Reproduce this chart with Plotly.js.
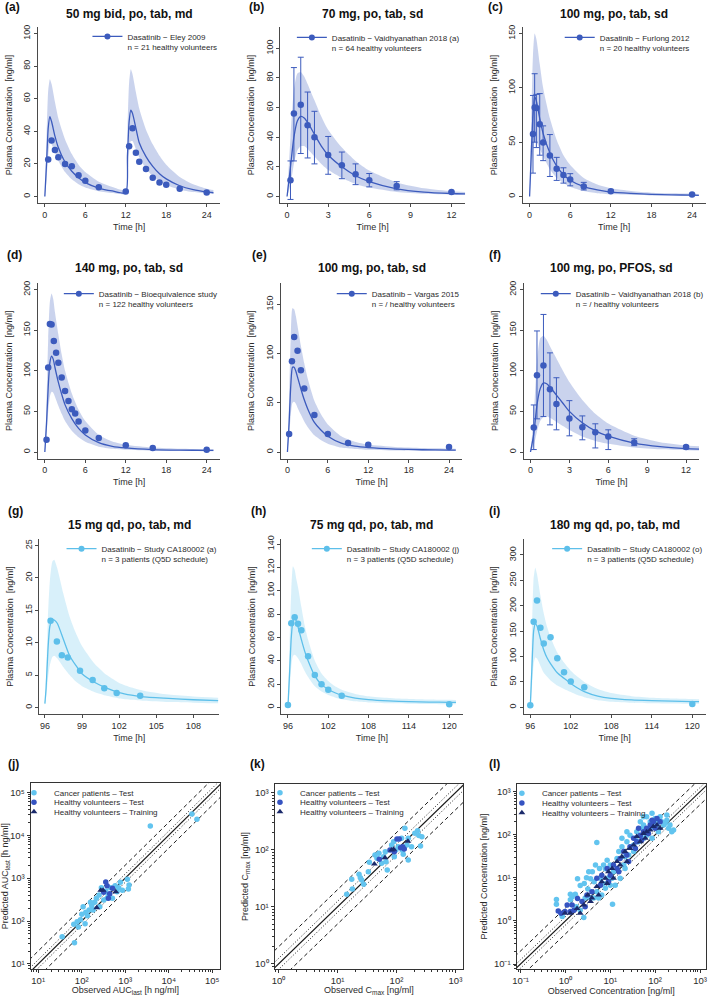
<!DOCTYPE html>
<html>
<head>
<meta charset="utf-8">
<script src="https://cdn.plot.ly/plotly-3.0.1.min.js"></script>
<style>
html,body{margin:0;padding:0;background:#ffffff;}
#chart{width:709px;height:996px;}
</style>
</head>
<body>
<div id="chart"></div>
<script>
// ================= DATA =================
// (a) 50 mg bid, po, tab, md
const aObsT = [0.5,1,1.5,2,3,4,5,6,8,12,12.5,13,13.5,14,15,16,17,18,20,24];
const aObsC = [22.7,34.4,28.5,24,20,18.6,13.1,9.6,5.7,3.1,30.9,41.8,26.8,21.3,16.8,11.5,8.6,7.2,4.7,2.5];
const aSimT = [0,0.25,0.5,0.75,1,1.5,2,3,4,5,6,8,10,12,12.25,12.5,12.75,13,13.5,14,15,16,17,18,20,22,24,25];
const aSimMed = [0,20,42,49,46,37,30,21,15.5,11.5,8.5,5.2,3.4,2.3,25,46,53,51,42,33,24.5,18.5,14,10.8,6.6,4.2,2.8,2.3];
const aSimHi = [0,35,65,72,69,58,48,35,26,19.5,15,9,5.8,4,40,70,78,75,64,54,41,32,25,19.5,12,7.5,4.8,4];
const aSimLo = [0,10,25,33,32,27,22,15,10.5,7.5,5.5,3.2,2.1,1.5,12,27,34,34,29,24,17,12.5,9.2,7,4.2,2.7,1.8,1.5];

// (b) 70 mg, po, tab, sd
const bObsT = [0.25,0.5,1,1.5,2,3,4,5,6,8,12];
const bObsC = [11,56,62,48,40,28,21,15,11,7,3];
const bObsLo = [-2,24,29,26,22,15,12,8,6.5,4.5,2.5];
const bObsHi = [24,87,94,70.5,57.5,40.5,30,22,15.5,10,3.5];
const bSimT = [0,0.25,0.5,0.75,1,1.25,1.5,2,2.5,3,4,5,6,8,10,12,13];
const bSimMed = [0,20,40,51,54,53,50,42,34,28,20,14,10,5.2,3,2,1.7];
const bSimHi = [0,40,72,83,84,81,76,65,54,45,33,24,17.5,9.5,5.5,3.5,3];
const bSimLo = [0,8,22,31,34,34,32,27,22,18,12.5,8.5,6,3,1.8,1.2,1];

// (c) 100 mg, po, tab, sd
const cObsT = [0.5,0.75,1,1.5,2,3,4,5,6,8,12,24];
const cObsC = [57.5,82,81.5,66.4,49.8,37.8,25.5,19.7,15.7,9.2,4.9,1.8];
const cObsLo = [21.5,50,45,38,33,18.4,14.8,12.3,9.8,6,3.7,1.2];
const cObsHi = [93,113,94,94.7,65,57,36,26.4,21,13,6,2.4];
const cSimT = [0,0.25,0.5,0.75,1,1.5,2,3,4,5,6,8,10,12,15,18,21,24,25];
const cSimMed = [0,40,75,92,88,72,58,40,28,20,15,9,6,4,2.8,2,1.5,1.2,1.1];
const cSimHi = [0,70,130,150,145,122,100,72,52,38,29,17,11,7.5,5,3.5,2.9,2.5,2.3];
const cSimLo = [0,20,40,50,50,44,37,25,17,12.5,9,5,3,2,1.4,1,0.8,0.6,0.5];

// (d) 140 mg, po, tab, sd
const dObsT = [0.25,0.5,0.75,1,1.33,1.67,2,2.5,3,3.5,4,4.5,5,6,8,12,16,24];
const dObsC = [15,104,157.5,157,136.7,122,109.8,91.8,75,62.8,52.6,47.3,37.5,26.5,17.1,8.2,4.9,2.9];
const dSimT = [0,0.25,0.5,0.75,1,1.25,1.5,2,2.5,3,4,5,6,8,10,12,16,20,24,25];
const dSimMed = [0,35,80,110,118,114,104,86,71,58,41,29,21,11.5,7,5,3,2.3,2,1.9];
const dSimHi = [0,60,140,185,195,188,172,145,120,100,72,52,38,21,13,9,5.5,4,3.5,3.3];
const dSimLo = [0,20,50,68,74,73,68,57,47,38,26,18,12.5,6.5,4,2.8,1.6,1.2,1,1];

// (e) 100 mg, po, tab, sd
const eObsT = [0.25,0.67,1,1.5,2,2.5,4,6,9,12,24];
const eObsC = [18.4,92.2,116.7,102.7,82.9,64.4,37.5,18.4,9.1,7.4,5];
const eSimT = [0,0.25,0.5,0.75,1,1.25,1.5,2,2.5,3,4,5,6,8,10,12,16,20,24,25];
const eSimMed = [0,30,68,86,86,82,76,64,53,44,30,22,16,9,6,4.5,3,2.3,2,2];
const eSimHi = [0,55,118,146,145,138,128,108,90,75,52,38,28,16,10.5,7.5,5,4,3.5,3.4];
const eSimLo = [0,15,38,50,51,49,45,38,31,25.5,17,12,8.5,4.5,3,2.2,1.4,1.1,1,1];

// (f) 100 mg, po, PFOS, sd
const fObsT = [0.25,0.5,1,1.5,2,3,4,5,6,8,12];
const fObsC = [30,94.6,106.5,77.1,59.1,41.2,30.6,24.4,19.1,11.8,6.1];
const fObsLo = [3,40.8,43.6,33.4,27.3,19.9,15,5,3,7.8,4];
const fObsHi = [57.9,149,169.3,122,91.4,63.2,44.4,34.7,27.3,16.3,8];
const fSimT = [0,0.25,0.5,0.75,1,1.25,1.5,2,2.5,3,4,5,6,8,10,12,13];
const fSimMed = [0,22,58,78,85,84,80,70,60,50,36,26,19.5,11,6.5,4.2,3.6];
const fSimHi = [0,45,110,140,143,138,130,115,100,86,64,47,35,20,12,8,7];
const fSimLo = [0,8,25,38,43,44,42,37,32,27,19,13.5,10,5.5,3.3,2.2,1.9];

// (g) 15 mg qd, po, tab, md
const gObsT = [96.46,96.97,97.37,97.85,98.84,99.86,100.8,101.8,103.7];
const gObsC = [13.4,10.2,8.05,7.7,5.66,4.26,2.96,2.23,1.82];
const gSimT = [96,96.1,96.25,96.4,96.6,96.75,97,97.5,98,98.5,99,100,101,102,103,104,106,108,110];
const gSimMed = [0.6,3,9,12.5,13.6,13.5,13,10.5,8,6.5,5.2,3.9,3,2.3,1.9,1.65,1.4,1.2,1.05];
const gSimHi = [0.9,5,14,19.5,22.5,22.8,21.5,17.5,14,11.5,9.5,6.8,5,3.8,3.1,2.6,2,1.7,1.5];
const gSimLo = [0.4,1.5,4.5,6.5,7.8,8,7.6,6.2,5,4,3.3,2.4,1.8,1.4,1.2,1.05,0.85,0.75,0.65];

// (h) 75 mg qd, po, tab, md
const hObsT = [96,96.5,97,97.5,98,99,100,101,102,104,120];
const hObsC = [2,72.1,77.3,71.7,66,43.7,27.7,19.7,15.1,10,2.6];
const hSimT = [96,96.25,96.5,96.75,97,97.25,97.5,98,98.5,99,100,101,102,103,104,106,108,111,114,117,120,121];
const hSimMed = [0,30,60,74,76,74,69,58,48,40,27,19.5,15.5,12.5,10.5,8,6.6,5.5,4.9,4.5,4.3,4.2];
const hSimHi = [0,55,100,121,118,110,103,86,70,58,40,29,22.5,18,15,11.5,9.5,8,7.2,6.8,6.5,6.4];
const hSimLo = [0,15,35,44,45,44,42,37,31,26,18,13.5,10.5,8.5,7,5.2,4.2,3.5,3.1,2.9,2.7,2.7];

// (i) 180 mg qd, po, tab, md
const iObsT = [96,96.5,97,97.5,98,99,100,101,102,104,120];
const iObsC = [3.9,168.5,210.6,156.8,125.9,137.8,96.4,68.9,50.6,39.4,6.6];
const iSimT = [96,96.25,96.5,96.75,97,97.5,98,98.5,99,100,101,102,103,104,106,108,111,114,117,120,121];
const iSimMed = [0,80,150,165,160,135,113,97,86,68,57,47,38,31,22,17.5,14.5,13,12,11,11];
const iSimHi = [0,150,255,275,262,220,185,158,138,108,88,72,60,50,36,28,22,19,17.5,16.5,16];
const iSimLo = [0,40,85,98,96,82,68,60,53,43,36,30,24,20,14,11,9,8,7.5,7,7];

// (j) AUClast, log10 values [h ng/ml]
const jCancerObsLog = [1.551,1.834,1.818,1.895,1.971,2.033,2.094,2.132,2.170,2.231,2.300,2.338,2.400,2.453,2.507,2.553,2.614,2.660,2.706,2.767,2.813,2.851,2.889,2.935,2.415,2.262,2.002,1.925,2.078,3.050,3.088,3.073,3.577,4.533,4.648,2.201,2.583];
const jCancerPredLog = [1.637,1.497,1.924,1.986,2.033,2.336,2.204,2.126,2.258,2.359,2.437,2.530,2.608,2.779,2.491,2.701,2.608,2.779,2.530,2.825,2.685,2.779,2.903,2.717,2.336,2.258,2.157,1.862,1.940,2.973,2.841,2.748,4.216,4.495,4.371,2.437,2.530];
const jHvTestObsLog = [2.553,2.583,2.644,2.706,2.507,2.614];
const jHvTestPredLog = [2.911,2.825,2.639,2.763,2.670,2.530];
const jHvTrainObsLog = [2.438,2.491,2.346,2.782];
const jHvTrainPredLog = [2.717,2.717,2.313,2.685];

// (k) Cmax, log10 values [ng/ml]
const kCancerObsLog = [1.156,1.252,1.241,1.365,1.410,1.444,1.387,1.523,1.540,1.636,1.670,1.703,1.748,1.782,1.810,1.822,1.844,1.918,1.952,1.963,1.991,2.030,2.087,2.098,2.115,2.143,2.177,2.200,2.256,2.312,2.358,2.380,2.408,2.431,2.200];
const kCancerPredLog = [1.220,1.313,1.483,1.570,1.471,1.395,1.512,1.617,1.781,1.909,1.851,1.938,1.763,1.880,1.967,1.792,1.646,2.084,2.142,1.880,1.996,2.055,2.201,1.991,1.921,2.376,2.084,2.201,2.055,2.288,2.335,2.248,2.067,2.230,1.821];
const kHvTestObsLog = [1.709,2.008,2.047,1.963,2.070,2.104,2.132,1.890];
const kHvTestPredLog = [1.833,2.189,2.189,1.967,2.037,2.055,2.014,1.997];
const kHvTrainObsLog = [1.625,1.805,1.918,1.952,2.194];
const kHvTrainPredLog = [1.751,1.862,1.996,2.008,2.148];

// (l) all concentrations, log10 values [ng/ml]
const lCancerObsLog = [-0.20,-0.20,0.11,0.15,0.22,0.27,0.33,0.42,0.47,0.50,0.56,0.60,0.64,0.41,0.70,1.05,0.63,0.70,0.78,0.85,0.89,0.93,1.00,1.04,1.07,1.15,1.19,1.26,1.30,1.33,1.37,1.44,1.52,1.56,1.59,1.67,1.70,1.74,1.81,1.89,1.93,2.00,2.04,2.07,2.11,2.15,2.19,2.22,2.26,2.30,2.33,2.37,1.89,1.81,1.74,1.63,1.52,1.41,1.33,1.22,1.11,1.00,0.89,0.81,0.74,0.56,0.44,0.11,0.84,0.94,0.76,0.67,-0.07,0.33,0.24,0.52,1.26,1.37,1.74,1.96,2.26,2.41,2.07,1.93];
const lCancerPredLog = [0.50,0.39,0.62,0.56,0.62,0.98,0.82,0.87,1.00,0.74,0.98,1.14,0.91,0.08,1.82,0.39,0.53,0.68,0.99,1.30,1.21,1.41,1.30,0.99,1.14,1.45,1.61,1.72,1.30,1.49,1.84,1.99,1.76,1.92,2.07,2.30,2.15,2.23,2.42,2.30,2.50,2.38,2.23,2.34,2.42,2.30,2.23,2.27,2.34,2.15,2.23,2.07,2.15,1.99,1.92,1.84,1.61,1.53,1.22,0.99,0.83,0.83,0.76,0.60,0.53,0.53,0.53,0.49,0.87,0.99,1.22,1.30,0.10,0.25,0.33,1.14,1.92,2.07,2.42,2.30,2.46,2.11,2.07,1.92];
const lHvTestObsLog = [-0.16,-0.01,0.04,0.11,0.19,0.27,0.37,0.48,0.59,0.70,0.81,0.93,1.00,1.07,1.15,1.22,1.30,1.37,1.44,1.52,1.59,1.67,1.74,1.81,1.89,1.96,2.04,2.11,2.00,1.85,1.70,1.56,1.41,1.19,0.96,0.78,0.44,0.15,-0.10,1.63,1.93];
const lHvTestPredLog = [0.23,0.22,0.37,0.22,0.25,0.52,0.45,0.60,0.68,0.99,1.06,1.22,1.06,1.30,1.22,1.45,1.61,1.53,1.72,1.92,1.84,1.99,2.07,2.15,2.23,2.30,2.38,2.30,2.15,2.03,1.88,1.68,1.38,1.14,0.91,0.83,0.33,0.37,0.18,2.15,2.34];
const lHvTrainObsLog = [-0.01,0.11,0.33,0.41,0.50,0.59,0.70,0.81,0.89,0.96,1.04,1.15,1.22,1.26,1.33,1.44,1.52,1.59,1.67,1.74,1.81,1.89,1.96,2.04,2.11,1.78,1.37,1.07,0.93,0.74,0.56,0.26];
const lHvTrainPredLog = [0.18,0.18,0.18,0.37,0.60,0.53,0.80,0.91,0.99,1.14,1.22,1.38,1.30,1.49,1.61,1.68,1.76,1.96,1.84,2.03,2.07,2.11,2.19,2.23,2.15,1.92,1.38,0.99,0.87,0.60,0.45,0.29];

// fold-error reference lines (predicted / observed)
const foldRatios = [0.5, 0.8, 1, 1.25, 2];
const SUPER = {'-': '\u207B', '0': '\u2070', '1': '\u00B9', '2': '\u00B2', '3': '\u00B3', '4': '\u2074', '5': '\u2075'};

// ================= STYLE / LAYOUT CONFIG =================
const W = 709, H = 996;
const FONT = 'Liberation Sans, Arial, Helvetica, sans-serif';
const TXT = '#2b2b2b', AXC = '#4a4a4a';
const DARK = '#3c5bbd', DARK_BAND = 'rgba(60,91,189,0.27)';
const LIGHT = '#5dbfea', LIGHT_BAND = 'rgba(93,191,234,0.24)';
const C_CANCER = '#62c4ef', C_HVTEST = '#3553c1', C_HVTRAIN = '#1b2a6b';
const SUB = t => '<span style="font-size:6.5px;baseline-shift:-2px">' + t + '</span>';

const pk = [
  {obsT:aObsT, obsC:aObsC, simT:aSimT, med:aSimMed, lo:aSimLo, hi:aSimHi, col:DARK, band:DARK_BAND,
   title:'50 mg bid, po, tab, md', leg:'Dasatinib − Eley 2009<br>n = 21 healthy volunteers', lab:'(a)',
   box:[38.2,220.8,27,203], xr:[-1,26], yr:[-4,104], x0:0, xdt:6, ydt:20, labXY:[3.5,7], titleY:14, legXY:[87.7,24.7]},
  {obsT:bObsT, obsC:bObsC, obsLo:bObsLo, obsHi:bObsHi, simT:bSimT, med:bSimMed, lo:bSimLo, hi:bSimHi, col:DARK, band:DARK_BAND,
   title:'70 mg, po, tab, sd', leg:'Dasatinib − Vaidhyanathan 2018 (a)<br>n = 64 healthy volunteers', lab:'(b)',
   box:[281,466.5,27,203], xr:[-0.5,13], yr:[-4.4,114.4], x0:0, xdt:3, ydt:20, labXY:[248,7], titleY:14, legXY:[292.7,25.7]},
  {obsT:cObsT, obsC:cObsC, obsLo:cObsLo, obsHi:cObsHi, simT:cSimT, med:cSimMed, lo:cSimLo, hi:cSimHi, col:DARK, band:DARK_BAND,
   title:'100 mg, po, tab, sd', leg:'Dasatinib − Furlong 2012<br>n = 20 healthy volunteers', lab:'(c)',
   box:[524.3,707.6,27,203], xr:[-1,26], yr:[-6,156], x0:0, xdt:6, ydt:50, labXY:[487,7], titleY:14, legXY:[561.3,25.7]},
  {obsT:dObsT, obsC:dObsC, simT:dSimT, med:dSimMed, lo:dSimLo, hi:dSimHi, col:DARK, band:DARK_BAND,
   title:'140 mg, po, tab, sd', leg:'Dasatinib − Bioequivalence study<br>n = 122 healthy volunteers', lab:'(d)',
   box:[38.2,220.8,283,458.5], xr:[-1,26], yr:[-8,208], x0:0, xdt:6, ydt:50, labXY:[5,255], titleY:268.3, legXY:[59,282]},
  {obsT:eObsT, obsC:eObsC, simT:eSimT, med:eSimMed, lo:eSimLo, hi:eSimHi, col:DARK, band:DARK_BAND,
   title:'100 mg, po, tab, sd', leg:'Dasatinib − Vargas 2015<br>n = / healthy volunteers', lab:'(e)',
   box:[281.5,463.8,283,458.5], xr:[-1,26], yr:[-6.6,171.6], x0:0, xdt:6, ydt:50, labXY:[251,255], titleY:268.3, legXY:[332.7,282]},
  {obsT:fObsT, obsC:fObsC, obsLo:fObsLo, obsHi:fObsHi, simT:fSimT, med:fSimMed, lo:fSimLo, hi:fSimHi, col:DARK, band:DARK_BAND,
   title:'100 mg, po, PFOS, sd', leg:'Dasatinib − Vaidhyanathan 2018 (b)<br>n = / healthy volunteers', lab:'(f)',
   box:[525.5,701,283,458.5], xr:[-0.5,13], yr:[-8,208], x0:0, xdt:3, ydt:50, labXY:[488.7,255], titleY:268.3, legXY:[537.3,282]},
  {obsT:gObsT, obsC:gObsC, simT:gSimT, med:gSimMed, lo:gSimLo, hi:gSimHi, col:LIGHT, band:LIGHT_BAND,
   title:'15 mg qd, po, tab, md', leg:'Dasatinib − Study CA180002 (a)<br>n = 3 patients (Q5D schedule)', lab:'(g)',
   box:[39.3,220,539,714], xr:[95.54,110.1], yr:[-1,26], x0:96, xdt:3, ydt:5, labXY:[6,511], titleY:525, legXY:[61.7,537]},
  {obsT:hObsT, obsC:hObsC, simT:hSimT, med:hSimMed, lo:hSimLo, hi:hSimHi, col:LIGHT, band:LIGHT_BAND,
   title:'75 mg qd, po, tab, md', leg:'Dasatinib − Study CA180002 (j)<br>n = 3 patients (Q5D schedule)', lab:'(h)',
   box:[282,464,539,714], xr:[95,122], yr:[-5.7,144.3], x0:96, xdt:6, ydt:20, labXY:[249.3,511], titleY:525, legXY:[307.7,537]},
  {obsT:iObsT, obsC:iObsC, simT:iSimT, med:iSimMed, lo:iSimLo, hi:iSimHi, col:LIGHT, band:LIGHT_BAND,
   title:'180 mg qd, po, tab, md', leg:'Dasatinib − Study CA180002 (o)<br>n = 3 patients (Q5D schedule)', lab:'(i)',
   box:[525,707.8,539,714], xr:[95,122], yr:[-13.2,331.5], x0:96, xdt:6, ydt:50, labXY:[488.7,511], titleY:525, legXY:[548.7,537]}
];

const sc = [
  {cx:jCancerObsLog, cy:jCancerPredLog, tx:jHvTestObsLog, ty:jHvTestPredLog, rx:jHvTrainObsLog, ry:jHvTrainPredLog,
   lab:'(j)', labXY:[6,764], box:[30.7,220.7,783.3,969], xr:[0.826,5.18], yr:[0.883,5.21], dec:[1,5],
   xt:'Observed AUC' + SUB('last') + ' [h ng/ml]', yt:'Predicted AUC' + SUB('last') + ' [h ng/ml]', legX:14, legY:[778.2,787.8,797.2]},
  {cx:kCancerObsLog, cy:kCancerPredLog, tx:kHvTestObsLog, ty:kHvTestPredLog, rx:kHvTrainObsLog, ry:kHvTrainPredLog,
   lab:'(k)', labXY:[248.7,764], box:[275.3,464.7,784,969], xr:[-0.068,3.135], yr:[-0.088,3.152], dec:[0,3],
   xt:'Observed C' + SUB('max') + ' [ng/ml]', yt:'Predicted C' + SUB('max') + ' [ng/ml]', legX:260.7, legY:[778.2,787.8,797.2]},
  {cx:lCancerObsLog, cy:lCancerPredLog, tx:lHvTestObsLog, ty:lHvTestPredLog, rx:lHvTrainObsLog, ry:lHvTrainPredLog,
   lab:'(l)', labXY:[488.7,764], box:[518,708,784,969], xr:[-1.089,3.133], yr:[-1.116,3.179], dec:[-1,3],
   xt:'Observed Concentration [ng/ml]', yt:'Predicted Concentration [ng/ml]', legX:503.3, legY:[778.8,788.5,798.2]}
];

// ================= BUILD =================
const traces = [];
const annotations = [];
const layout = {
  width: W, height: H, margin: {l:0, r:0, t:0, b:0},
  paper_bgcolor: '#ffffff', plot_bgcolor: 'rgba(0,0,0,0)',
  font: {family: FONT, size: 9, color: TXT},
  showlegend: true, hovermode: false
};
const px2x = v => v / W;
const px2y = v => 1 - v / H;
const pow10 = a => a.map(v => Math.pow(10, v));
const supText = d => '10' + String(d).split('').map(ch => SUPER[ch]).join('');

let legendCount = 0;
function nextLegend(x, y, valign) {
  legendCount += 1;
  const id = legendCount === 1 ? 'legend' : 'legend' + legendCount;
  layout[id] = {x: px2x(x), y: px2y(y), xanchor: 'left', yanchor: 'top', bgcolor: 'rgba(0,0,0,0)',
    borderwidth: 0, font: {family: FONT, size: 8, color: TXT}, valign: valign || 'middle', tracegroupgap: 0};
  return id;
}

function label(txt, x, y) {
  annotations.push({text: '<b>' + txt + '</b>', xref: 'paper', yref: 'paper', x: px2x(x), y: px2y(y),
    xanchor: 'left', yanchor: 'middle', showarrow: false, font: {family: FONT, size: 12, color: '#111'}});
}

pk.forEach((p, i) => {
  const n = i + 1;
  const xa = n === 1 ? 'x' : 'x' + n, ya = n === 1 ? 'y' : 'y' + n;
  const common = {xaxis: xa, yaxis: ya, hoverinfo: 'skip', showlegend: false};
  traces.push(Object.assign({x: p.simT, y: p.lo, mode: 'lines', line: {width: 0, shape: 'spline', smoothing: 0.6}}, common));
  traces.push(Object.assign({x: p.simT, y: p.hi, mode: 'lines', fill: 'tonexty', fillcolor: p.band,
    line: {width: 0, shape: 'spline', smoothing: 0.6}}, common));
  traces.push(Object.assign({x: p.simT, y: p.med, mode: 'lines', line: {color: p.col, width: 1.3, shape: 'spline', smoothing: 0.6}}, common));
  const obs = Object.assign({x: p.obsT, y: p.obsC, mode: 'markers', marker: {size: 6.5, color: p.col}}, common);
  if (p.obsLo) {
    obs.error_y = {type: 'data', symmetric: false,
      array: p.obsHi.map((v, k) => v - p.obsC[k]),
      arrayminus: p.obsC.map((v, k) => v - p.obsLo[k]),
      color: p.col, thickness: 1, width: 3};
  }
  traces.push(obs);
  const legId = nextLegend(p.legXY[0], p.legXY[1], 'top');
  traces.push({x: [null], y: [null], xaxis: xa, yaxis: ya, mode: 'lines+markers', name: p.leg, legend: legId,
    showlegend: true, line: {color: p.col, width: 1.3}, marker: {size: 6, color: p.col}, hoverinfo: 'skip'});

  const [x0, x1, y0, y1] = p.box;
  const axBase = {showline: true, linecolor: AXC, linewidth: 1, ticks: 'outside', ticklen: 3, tickwidth: 1,
    tickcolor: AXC, showgrid: false, zeroline: false, fixedrange: true, tickfont: {family: FONT, size: 9, color: TXT}};
  layout['xaxis' + (n === 1 ? '' : n)] = Object.assign({}, axBase, {domain: [px2x(x0), px2x(x1)], range: p.xr,
    anchor: ya, tickmode: 'linear', tick0: p.x0, dtick: p.xdt,
    title: {text: 'Time [h]', font: {family: FONT, size: 9, color: TXT}, standoff: 4}});
  layout['yaxis' + (n === 1 ? '' : n)] = Object.assign({}, axBase, {domain: [px2y(y1), px2y(y0)], range: p.yr,
    anchor: xa, tickmode: 'linear', tick0: 0, dtick: p.ydt, tickangle: -90,
    title: {text: 'Plasma Concentration\u00a0 [ng/ml]', font: {family: FONT, size: 9, color: TXT}, standoff: 8}});

  annotations.push({text: '<b>' + p.title + '</b>', xref: 'paper', yref: 'paper', x: px2x((x0 + x1) / 2), y: px2y(p.titleY),
    xanchor: 'center', yanchor: 'middle', showarrow: false, font: {family: FONT, size: 12, color: '#111'}});
  label(p.lab, p.labXY[0], p.labXY[1]);
});

const groupNames = ['Cancer patients – Test', 'Healthy volunteers – Test', 'Healthy volunteers – Training'];
sc.forEach((s, j) => {
  const n = pk.length + j + 1;
  const xa = 'x' + n, ya = 'y' + n;
  const xlo = Math.pow(10, s.xr[0]), xhi = Math.pow(10, s.xr[1]);
  foldRatios.forEach(f => {
    traces.push({x: [xlo / 4, xhi * 4], y: [xlo / 4 * f, xhi * 4 * f], xaxis: xa, yaxis: ya, mode: 'lines',
      line: {color: '#1a1a1a', width: f === 1 ? 1.2 : 1, dash: f === 1 ? 'solid' : ((f === 2 || f === 0.5) ? '4px,3px' : '1px,2px')},
      hoverinfo: 'skip', showlegend: false});
  });
  const sets = [
    {x: s.cx, y: s.cy, col: C_CANCER, sym: 'circle', size: 5.5},
    {x: s.tx, y: s.ty, col: C_HVTEST, sym: 'circle', size: 5.5},
    {x: s.rx, y: s.ry, col: C_HVTRAIN, sym: 'triangle-up', size: 6}
  ];
  sets.forEach((g, k) => {
    const legId = nextLegend(s.legX, s.legY[k], 'middle');
    traces.push({x: pow10(g.x), y: pow10(g.y), xaxis: xa, yaxis: ya, mode: 'markers', name: groupNames[k],
      legend: legId, showlegend: true, marker: {symbol: g.sym, size: g.size, color: g.col}, hoverinfo: 'skip'});
  });
  const major = [], majorTxt = [], minor = [];
  for (let d = s.dec[0]; d <= s.dec[1]; d++) {
    major.push(Math.pow(10, d));
    majorTxt.push(supText(d));
  }
  for (let d = s.dec[0] - 1; d <= s.dec[1]; d++) {
    for (let m = 2; m <= 9; m++) minor.push(m * Math.pow(10, d));
  }
  const [x0, x1, y0, y1] = s.box;
  const axBase = {type: 'log', showline: true, mirror: true, linecolor: '#333', linewidth: 1, ticks: 'outside',
    ticklen: 3, tickwidth: 1, tickcolor: '#333', showgrid: false, zeroline: false, fixedrange: true,
    tickmode: 'array', tickvals: major, ticktext: majorTxt, tickfont: {family: FONT, size: 9.5, color: TXT},
    minor: {tickmode: 'array', tickvals: minor, ticks: 'outside', ticklen: 1.5, tickcolor: '#333', showgrid: false}};
  layout['xaxis' + n] = Object.assign({}, axBase, {domain: [px2x(x0), px2x(x1)], range: s.xr, anchor: ya,
    title: {text: s.xt, font: {family: FONT, size: 9, color: TXT}, standoff: 3}});
  layout['yaxis' + n] = Object.assign({}, axBase, {domain: [px2y(y1), px2y(y0)], range: s.yr, anchor: xa,
    tickangle: 0, title: {text: s.yt, font: {family: FONT, size: 9, color: TXT}, standoff: 4}});
  label(s.lab, s.labXY[0], s.labXY[1]);
});

layout.annotations = annotations;
Plotly.newPlot('chart', traces, layout, {staticPlot: true, displayModeBar: false});
</script>
</body>
</html>
